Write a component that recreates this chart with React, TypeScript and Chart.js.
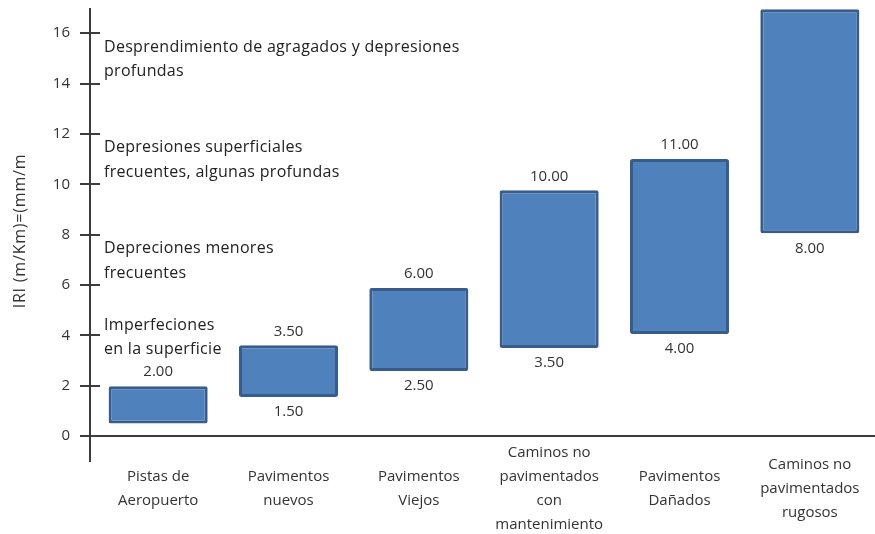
import React, { useEffect, useRef } from 'react';
import { Chart, registerables } from 'chart.js';

Chart.register(...registerables);

const categories: string[][] = [
  ['Pistas de', 'Aeropuerto'],
  ['Pavimentos', 'nuevos'],
  ['Pavimentos', 'Viejos'],
  ['Caminos no', 'pavimentados', 'con', 'mantenimiento'],
  ['Pavimentos', 'Dañados'],
  ['Caminos no', 'pavimentados', 'rugosos'],
];
const barLow = [0.5, 1.55, 2.58, 3.5, 4.05, 8.05];
const barHigh = [1.98, 3.6, 5.88, 9.76, 11.0, 16.95];
const topLabels: (number | null)[] = [2.0, 3.5, 6.0, 10.0, 11.0, null];
const bottomLabels: (number | null)[] = [null, 1.5, 2.5, 3.5, 4.0, 8.0];
const yTickValues = [0, 2, 4, 6, 8, 10, 12, 14, 16];
const yTitle = 'IRI (m/Km)=(mm/m';
const annotationLines: string[][] = [
  ['Desprendimiento de agragados y depresiones', 'profundas'],
  ['Depresiones superficiales', 'frecuentes, algunas profundas'],
  ['Depreciones menores', 'frecuentes'],
  ['Imperfeciones', 'en la superficie'],
];
const annotationValues = [15.45, 11.45, 7.45, 4.4];

const FONT = '"Open Sans", "Noto Sans", sans-serif';

export default function App() {
  const ref = useRef<HTMLCanvasElement | null>(null);
  useEffect(() => {
    if (!ref.current) return;
    const overlay = {
      id: 'overlay',
      afterDraw(chart: any) {
        const ctx = chart.ctx;
        const y = chart.scales.y;
        const area = chart.chartArea;
        const axisX = area.left - 3;
        ctx.save();
        ctx.strokeStyle = '#3c3c3c';
        ctx.lineWidth = 2;
        // vertical axis
        ctx.beginPath();
        ctx.moveTo(axisX, area.top);
        ctx.lineTo(axisX, area.bottom + 26);
        ctx.stroke();
        // tick marks
        yTickValues.forEach((v) => {
          const py = Math.round(y.getPixelForValue(v));
          ctx.beginPath();
          ctx.moveTo(axisX - 10, py);
          ctx.lineTo(v === 0 ? chart.width : axisX + 10, py);
          ctx.stroke();
        });
        // axis title
        ctx.save();
        ctx.fillStyle = '#333';
        ctx.font = `16px ${FONT}`;
        (ctx as any).letterSpacing = '0.8px';
        ctx.textAlign = 'center';
        ctx.textBaseline = 'middle';
        ctx.translate(20, (area.top + area.bottom) / 2 + 9);
        ctx.rotate(-Math.PI / 2);
        ctx.fillText(yTitle, 0, 0);
        ctx.restore();
        // annotations
        ctx.save();
        ctx.fillStyle = '#222';
        ctx.font = `16px ${FONT}`;
        (ctx as any).letterSpacing = '0.3px';
        ctx.textAlign = 'left';
        ctx.textBaseline = 'middle';
        annotationLines.forEach((lines, i) => {
          lines.forEach((t, j) => {
            ctx.fillText(t, axisX + 14, y.getPixelForValue(annotationValues[i] - j * 0.98));
          });
        });
        ctx.restore();
        // data labels
        const meta = chart.getDatasetMeta(0);
        ctx.fillStyle = '#333';
        ctx.font = `15px ${FONT}`;
        ctx.textAlign = 'center';
        ctx.textBaseline = 'middle';
        meta.data.forEach((el: any, i: number) => {
          const top = Math.min(el.y, el.base);
          const bot = Math.max(el.y, el.base);
          if (topLabels[i] !== null) ctx.fillText((topLabels[i] as number).toFixed(2), el.x, top - 14);
          if (bottomLabels[i] !== null) ctx.fillText((bottomLabels[i] as number).toFixed(2), el.x, bot + 15);
        });
        ctx.restore();
      },
    };
    const chart = new Chart(ref.current, {
      type: 'bar',
      data: {
        labels: categories,
        datasets: [
          {
            data: barLow.map((lo, i) => [lo, barHigh[i]]),
            backgroundColor: '#4F81BD',
            borderColor: '#385D8A',
            borderWidth: 3,
            borderRadius: 2,
            borderSkipped: false,
            categoryPercentage: 1,
            barPercentage: 0.76,
          } as any,
        ],
      },
      options: {
        animation: false,
        responsive: true,
        maintainAspectRatio: false,
        layout: { padding: { top: 8, left: 0, right: 0, bottom: 0 } },
        plugins: { legend: { display: false }, tooltip: { enabled: false } },
        scales: {
          x: {
            grid: { display: false, drawTicks: false },
            border: { display: false },
            ticks: {
              color: '#333',
              font: { family: FONT, size: 15, lineHeight: 1.6 },
              padding: 17,
              crossAlign: 'center',
              maxRotation: 0,
              autoSkip: false,
            },
            afterFit(scale: any) {
              scale.height = 98;
              scale.paddingLeft = 0;
              scale.paddingRight = 0;
            },
          },
          y: {
            min: 0,
            max: 17,
            grid: { display: false, drawTicks: false },
            border: { display: false },
            afterBuildTicks(scale: any) {
              scale.ticks = yTickValues.map((v) => ({ value: v }));
            },
            ticks: {
              color: '#333',
              font: { family: FONT, size: 15 },
              padding: 23,
            },
            afterFit(scale: any) {
              scale.width = 93;
              scale.paddingTop = 0;
              scale.paddingBottom = 0;
            },
          },
        },
      },
      plugins: [overlay],
    });
    return () => chart.destroy();
  }, []);
  return (
    <div style={{ position: 'fixed', left: 0, top: 0, width: 875, height: 534, background: '#fff' }}>
      <canvas ref={ref} />
    </div>
  );
}
